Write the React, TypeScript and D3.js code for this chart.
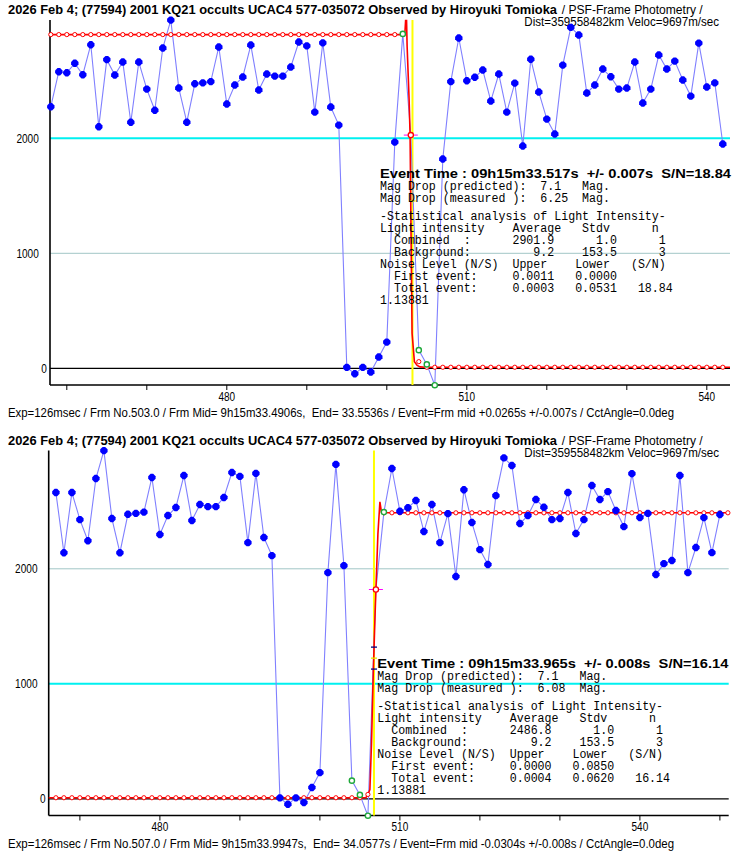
import React, { useEffect, useRef } from 'react';
import * as d3 from 'd3';

// light curve, one value per frame starting at FIRST_FRAME
const FIRST_FRAME = 458;
const intensity = [
  2275, 2579, 2570, 2652, 2553, 2814, 2101, 2684, 2550, 2663,
  2140, 2663, 2428, 2244, 2785, 3028, 2437, 2140, 2474, 2482,
  2493, 2794, 2298, 2463, 2533, 2811, 2420, 2559, 2541, 2541,
  2620, 2837, 2804, 2228, 2830, 2272, 2115, 8, -48, 8,
  -32, 98, 228, 1967, 2908, 2028, 158, 34, -147, 1820,
  2493, 2872, 2501, 2531, 2594, 2324, 2559, 2228, 2480, 1933,
  2688, 2402, 2167, 2037, 2636, 2965, 2898, 2394, 2463, 2602,
  2535, 2428, 2437, 2663, 2307, 2428, 2724, 2602, 2671, 2507,
  2367, 2828, 2446, 2482, 1950, 2045, 2072, 2811, 1967, 2185,
  2445, 2141, 2472,
];

// panel 0 = disappearance fit, panel 1 = reappearance fit
const panelShift = [0, 430.5];
const axisLeft = [50, 48.7];
const frameDomain: [number, number][] = [[457.9, 542.9], [466.1, 551.1]];
const valueDomain: [number, number] = [-145.2, 3028.7];
const eventFrame = [503, 507];
const eventTime = [503.21, 506.76];
const fitFrames = [[502, 504, 505, 506], [504, 505, 506, 508]];
const levelBefore = [2901.9, 9.2];
const levelAfter = [9.2, 2486.8];
const modelEdge: [number, number][][] = [
  [[503, 2028], [504, 58]],
  [[506, 38], [507, 1820]],
];
const modelCurve: [number, number][][] = [
  [[457.9, 2901.9], [502.25, 2901.9], [502.35, 3025], [502.47, 3025], [502.54, 2800],
    [502.79, 2333], [502.91, 2029], [503.04, 1100], [503.16, 305], [503.45, 58],
    [503.8, 25], [504.16, 12], [504.8, 9.2], [542.9, 9.2]],
  [[466.1, 9.2], [505.75, 9.2], [506.0, 38], [506.25, 80], [506.45, 480],
    [506.67, 1090], [506.85, 1500], [507.0, 1820], [507.25, 2300], [507.5, 2583],
    [507.7, 2490], [507.85, 2486.8], [551.1, 2486.8]],
];
const halfLevelTicks = [[1455], [1128, 1223, 1319]];
const yTicks = [0, 1000, 2000];
const highlightGrid = [2000, 1000];
const xLabelTicks = [480, 510, 540];

const titleBold = '2026 Feb 4; (77594) 2001 KQ21 occults UCAC4 577-035072 Observed by Hiroyuki Tomioka';
const titleRest = '/ PSF-Frame Photometry /';
const distLine = 'Dist=359558482km Veloc=9697m/sec';
const footers = [
  'Exp=126msec / Frm No.503.0 / Frm Mid= 9h15m33.4906s,  End= 33.5536s / Event=Frm mid +0.0265s +/-0.007s / CctAngle=0.0deg',
  'Exp=126msec / Frm No.507.0 / Frm Mid= 9h15m33.9947s,  End= 34.0577s / Event=Frm mid -0.0304s +/-0.008s / CctAngle=0.0deg',
];
const eventLines = [
  'Event Time : 09h15m33.517s  +/- 0.007s  S/N=18.84',
  'Event Time : 09h15m33.965s  +/- 0.008s  S/N=16.14',
];
const infoLines = [
  [
    'Mag Drop (predicted):  7.1   Mag.',
    'Mag Drop (measured ):  6.25  Mag.',
    '-Statistical analysis of Light Intensity-',
    'Light intensity    Average   Stdv      n',
    '  Combined  :      2901.9      1.0      1',
    '  Background:         9.2    153.5      3',
    'Noise Level (N/S)  Upper    Lower   (S/N)',
    '  First event:     0.0011   0.0000',
    '  Total event:     0.0003   0.0531   18.84',
    '1.13881',
  ],
  [
    'Mag Drop (predicted):  7.1   Mag.',
    'Mag Drop (measured ):  6.08  Mag.',
    '-Statistical analysis of Light Intensity-',
    'Light intensity    Average   Stdv      n',
    '  Combined  :      2486.8      1.0      1',
    '  Background:         9.2    153.5      3',
    'Noise Level (N/S)  Upper    Lower   (S/N)',
    '  First event:     0.0000   0.0850',
    '  Total event:     0.0004   0.0620   16.14',
    '1.13881',
  ],
];
const infoPos: [number, number][] = [[380, 173.3], [377.3, 663.3]];

const CHAR_W = 6.97;
const octagon = 'M-1.3,-3.7L1.3,-3.7L3.7,-1.3L3.7,1.3L1.3,3.7L-1.3,3.7L-3.7,1.3L-3.7,-1.3Z';

export default function App() {
  const svgRef = useRef<SVGSVGElement>(null);

  useEffect(() => {
    if (!svgRef.current) return;
    const svg = d3.select(svgRef.current);
    svg.selectAll('*').remove();

    const points = intensity.map((v, i) => ({ frame: FIRST_FRAME + i, value: v }));

    [0, 1].forEach((p) => {
      const dy = panelShift[p];
      const left = axisLeft[p];
      const right = left + (frameDomain[p][1] - frameDomain[p][0]) * 8;
      const top = 20 + dy;
      const bottom = 385 + dy;
      const x = d3.scaleLinear().domain(frameDomain[p]).range([left, right]);
      const y = d3.scaleLinear().domain(valueDomain).range([bottom, top]);
      const g = svg.append('g');

      // titles
      g.append('text')
        .attr('x', 8).attr('y', 14 + dy)
        .attr('font-family', 'Liberation Sans').attr('font-weight', 'bold').attr('font-size', 12.5)
        .attr('textLength', 549).attr('lengthAdjust', 'spacingAndGlyphs')
        .text(titleBold);
      g.append('text')
        .attr('x', 561.7).attr('y', 14 + dy)
        .attr('font-family', 'Liberation Sans').attr('font-size', 12.5)
        .attr('textLength', 141).attr('lengthAdjust', 'spacingAndGlyphs')
        .text(titleRest);
      g.append('text')
        .attr('x', 524.3).attr('y', 26 + dy)
        .attr('font-family', 'Liberation Sans').attr('font-size', 12.5)
        .attr('textLength', 194.7).attr('lengthAdjust', 'spacingAndGlyphs')
        .text(distLine);

      // grid lines
      yTicks.filter((t) => t !== 0).forEach((t) => {
        const hi = t === highlightGrid[p];
        g.append('line')
          .attr('x1', left).attr('x2', right)
          .attr('y1', y(t)).attr('y2', y(t))
          .attr('stroke', hi ? '#00f0f0' : '#a2c6c6')
          .attr('stroke-width', hi ? 2 : 1);
      });

      // zero line + axes
      g.append('line')
        .attr('x1', left).attr('x2', right).attr('y1', y(0)).attr('y2', y(0))
        .attr('stroke', '#000').attr('stroke-width', 1.2);
      g.append('line')
        .attr('x1', left).attr('x2', right).attr('y1', bottom).attr('y2', bottom)
        .attr('stroke', '#000').attr('stroke-width', 1.6);
      g.append('line')
        .attr('x1', left).attr('x2', left).attr('y1', top).attr('y2', bottom)
        .attr('stroke', '#000').attr('stroke-width', 1.6);

      const xTicks = d3.range(Math.ceil(frameDomain[p][0] / 10) * 10, frameDomain[p][1], 10);
      g.selectAll('.xtick').data(xTicks).enter().append('line')
        .attr('x1', (d) => x(d)).attr('x2', (d) => x(d))
        .attr('y1', bottom).attr('y2', bottom + 5)
        .attr('stroke', '#000');
      g.selectAll('.xlab').data(xLabelTicks).enter().append('text')
        .attr('x', (d) => x(d)).attr('y', bottom + 15.5)
        .attr('text-anchor', 'middle')
        .attr('font-family', 'Liberation Sans').attr('font-size', 12)
        .attr('textLength', 16.7).attr('lengthAdjust', 'spacingAndGlyphs')
        .text((d) => String(d));

      g.selectAll('.ylab').data(yTicks).enter().append('text')
        .attr('x', (d) => (d === 0 ? left - 3.2 : left - 11.2))
        .attr('y', (d) => y(d) + 4.2)
        .attr('text-anchor', 'end')
        .attr('font-family', 'Liberation Sans').attr('font-size', 12)
        .attr('textLength', (d) => String(d).length * 5.6).attr('lengthAdjust', 'spacingAndGlyphs')
        .text((d) => String(d));

      // event time
      g.append('line')
        .attr('x1', x(eventTime[p])).attr('x2', x(eventTime[p]))
        .attr('y1', top).attr('y2', bottom)
        .attr('stroke', '#ffff00').attr('stroke-width', 2);

      const inView = points.filter((d) => d.frame >= frameDomain[p][0] && d.frame <= frameDomain[p][1]);

      // observed light curve
      g.append('path')
        .datum(inView)
        .attr('fill', 'none').attr('stroke', '#8080ff').attr('stroke-width', 1.1)
        .attr('d', d3.line<{ frame: number; value: number }>().x((d) => x(d.frame)).y((d) => y(d.value)));

      // model curve
      g.append('path')
        .datum(modelCurve[p])
        .attr('fill', 'none').attr('stroke', '#ff0000').attr('stroke-width', 1.6)
        .attr('d', d3.line().x((d) => x(d[0])).y((d) => y(d[1])));

      const edge = new Map(modelEdge[p]);
      const firstEdge = modelEdge[p][0][0];
      const modelFrames = d3.range(Math.ceil(frameDomain[p][0]), Math.floor(frameDomain[p][1]) + 1)
        .filter((f) => f !== eventFrame[p]);
      g.selectAll('.mdl').data(modelFrames).enter().append('circle')
        .attr('cx', (f) => x(f))
        .attr('cy', (f) => y(edge.has(f) ? edge.get(f)! : f < firstEdge ? levelBefore[p] : levelAfter[p]))
        .attr('r', 2.1)
        .attr('fill', '#fff').attr('stroke', '#ff0000').attr('stroke-width', 1);

      // half level marks
      halfLevelTicks[p].forEach((v, i, arr) => {
        const mid = arr.length === 1 || i === 1;
        g.append('line')
          .attr('x1', x(eventTime[p]) - 3).attr('x2', x(eventTime[p]) + 3)
          .attr('y1', y(v)).attr('y2', y(v))
          .attr('stroke', mid ? '#e8e800' : '#000080').attr('stroke-width', 1.3);
      });

      // plain data points
      const fit = fitFrames[p];
      g.selectAll('.pt').data(inView.filter((d) => !fit.includes(d.frame) && d.frame !== eventFrame[p]))
        .enter().append('path')
        .attr('d', octagon)
        .attr('transform', (d) => `translate(${x(d.frame)},${y(d.value)})`)
        .attr('fill', '#0000ff');

      // points used in the fit
      g.selectAll('.fit').data(inView.filter((d) => fit.includes(d.frame)))
        .enter().append('circle')
        .attr('cx', (d) => x(d.frame)).attr('cy', (d) => y(d.value))
        .attr('r', 2.6)
        .attr('fill', '#fff').attr('stroke', '#1fa83a').attr('stroke-width', 1.4);

      // event frame marker
      const ev = edge.get(eventFrame[p])!;
      const ex = x(eventFrame[p]);
      const ey = y(ev);
      g.append('line').attr('x1', ex - 7).attr('x2', ex + 7).attr('y1', ey).attr('y2', ey)
        .attr('stroke', '#ff00ff').attr('stroke-width', 1);
      g.append('line').attr('x1', ex).attr('x2', ex).attr('y1', ey - 3).attr('y2', ey + 3)
        .attr('stroke', '#ff00ff').attr('stroke-width', 1);
      g.append('circle').attr('cx', ex).attr('cy', ey).attr('r', 2.6)
        .attr('fill', '#fff').attr('stroke', '#ff0000').attr('stroke-width', 1.3);

      // result text block
      const [tx, ty] = infoPos[p];
      g.append('text')
        .attr('x', tx).attr('y', ty + 4.4)
        .attr('font-family', 'Liberation Sans').attr('font-weight', 'bold').attr('font-size', 13)
        .attr('xml:space', 'preserve')
        .style('white-space', 'pre')
        .attr('textLength', 351).attr('lengthAdjust', 'spacingAndGlyphs')
        .text(eventLines[p]);
      infoLines[p].forEach((line, i) => {
        const off = 12 + i * 12 + (i >= 2 ? 6 : 0);
        g.append('text')
          .attr('x', tx).attr('y', ty + off + 4.2)
          .attr('font-family', 'Liberation Mono').attr('font-size', 12.5)
          .attr('xml:space', 'preserve')
          .style('white-space', 'pre')
          .attr('textLength', line.length * CHAR_W).attr('lengthAdjust', 'spacingAndGlyphs')
          .text(line);
      });

      // footer
      g.append('text')
        .attr('x', 8).attr('y', 417 + dy)
        .attr('font-family', 'Liberation Sans').attr('font-size', 12)
        .attr('textLength', 666).attr('lengthAdjust', 'spacingAndGlyphs')
        .style('white-space', 'pre')
        .text(footers[p]);
    });
  }, []);

  return (
    <svg
      ref={svgRef}
      width={740}
      height={857}
      style={{ position: 'absolute', left: 0, top: 0, background: '#fff' }}
    />
  );
}
